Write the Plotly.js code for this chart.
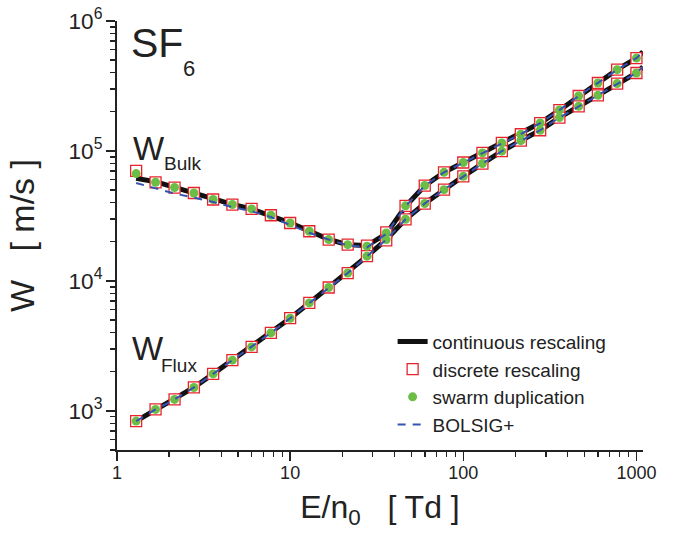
<!DOCTYPE html>
<html>
<head>
<meta charset="utf-8">
<script src="https://cdn.plot.ly/plotly-3.0.1.min.js"></script>
<style>html,body{margin:0;padding:0;background:#fff;}#chart{width:673px;height:535px;}</style>
</head>
<body>
<div id="chart"></div>
<script>
// E/n0 values (Td) of the sampled points
const E_td = [1.29, 1.67, 2.15, 2.78, 3.59, 4.64, 5.99, 7.74, 10, 12.9, 16.7, 21.5, 27.8, 35.9, 46.4, 59.9, 77.4, 100, 129, 167, 215, 278, 359, 464, 599, 774, 1000];
// E/n0 values for the continuous curves (extend to the axis end)
const E_line = [1.29, 1.67, 2.15, 2.78, 3.59, 4.64, 5.99, 7.74, 10, 12.9, 16.7, 21.5, 27.8, 35.9, 46.4, 59.9, 77.4, 100, 129, 167, 215, 278, 359, 464, 599, 774, 1000, 1090];

// continuous rescaling (m/s)
const bulkContinuous = [61500, 58000, 52500, 47500, 42500, 38800, 35800, 32000, 28000, 24200, 20900, 19000, 18700, 23000, 37500, 54000, 68500, 81500, 96500, 115000, 135000, 164000, 206000, 265000, 333000, 422000, 518000, 580000];
const fluxContinuous = [834, 1026, 1225, 1514, 1926, 2455, 3107, 3980, 5165, 6770, 8900, 11500, 15500, 20800, 29800, 39400, 50400, 63800, 80000, 99600, 120000, 144300, 180700, 220600, 268000, 329800, 398000, 443000];

// discrete rescaling (m/s)
const bulkDiscrete = [70200, 57400, 52300, 47500, 42300, 38700, 35800, 32000, 27900, 24100, 20800, 19000, 18700, 23600, 37800, 54200, 68500, 81500, 96600, 115300, 134400, 164000, 206500, 264900, 333500, 422500, 518600];
const fluxDiscrete = [834, 1026, 1225, 1514, 1926, 2455, 3107, 3980, 5165, 6770, 8900, 11500, 15500, 20500, 29800, 39400, 50400, 63800, 80000, 99600, 120000, 144300, 180700, 220600, 268000, 329800, 398000];

// swarm duplication (m/s)
const bulkSwarm = [67000, 57400, 52300, 47500, 42300, 38700, 35800, 32000, 27900, 24100, 20800, 19000, 18500, 23400, 37800, 54200, 68500, 81500, 96600, 115300, 134400, 164000, 206500, 264900, 333500, 422500, 518600];
const fluxSwarm = [834, 1026, 1225, 1514, 1926, 2455, 3107, 3980, 5165, 6770, 8900, 11500, 15500, 20800, 29800, 39400, 50400, 63800, 80000, 99600, 120000, 144300, 180700, 220600, 268000, 329800, 398000];

// BOLSIG+ (m/s)
const bulkBolsig = [56700, 51500, 47000, 43700, 40500, 37000, 34400, 31000, 26800, 23500, 20800, 18800, 18100, 23000, 37500, 54000, 68500, 81500, 96500, 115000, 135000, 164000, 206000, 265000, 333000, 422000, 518000, 580000];
const fluxBolsig = [834, 1026, 1225, 1514, 1926, 2455, 3107, 3980, 5165, 6770, 8900, 11500, 15500, 20800, 29800, 39400, 50400, 63800, 80000, 99600, 120000, 144300, 180700, 220600, 268000, 329800, 398000, 443000];

const seriesNames = ['continuous rescaling', 'discrete rescaling', 'swarm duplication', 'BOLSIG+'];

function join(a, b) { return a.concat([null], b); }

const FONT = 'Liberation Sans, Arial, Helvetica, sans-serif';

const traces = [
  {
    name: seriesNames[0], type: 'scatter', mode: 'lines',
    x: join(E_line, E_line), y: join(bulkContinuous, fluxContinuous),
    connectgaps: false,
    line: {color: '#111111', width: 5}
  },
  {
    name: seriesNames[1], type: 'scatter', mode: 'markers',
    x: join(E_td, E_td), y: join(bulkDiscrete, fluxDiscrete),
    marker: {symbol: 'square', size: 11, color: 'rgba(255,255,255,1)', line: {color: '#e8232b', width: 1.3}}
  },
  {
    name: seriesNames[2], type: 'scatter', mode: 'markers',
    x: join(E_td, E_td), y: join(bulkSwarm, fluxSwarm),
    marker: {symbol: 'circle', size: 9, color: '#6cbd45', line: {width: 0}}
  },
  {
    name: seriesNames[3], type: 'scatter', mode: 'lines',
    x: join(E_line, E_line), y: join(bulkBolsig, fluxBolsig),
    connectgaps: false,
    line: {color: '#3553b0', width: 2, dash: '8px,7px'}
  }
];

const axisCommon = {
  type: 'log',
  showgrid: false,
  zeroline: false,
  showline: true,
  linecolor: '#222',
  linewidth: 2,
  ticks: 'outside',
  ticklen: 9,
  tickwidth: 1.5,
  tickcolor: '#222',
  mirror: false,
  minor: {ticks: 'outside', ticklen: 5, tickwidth: 1.3, tickcolor: '#222', dtick: 'D1', showgrid: false},
  tickfont: {family: FONT, size: 18, color: '#222'}
};

const layout = {
  width: 673, height: 535,
  margin: {l: 117, r: 30, t: 21, b: 85},
  paper_bgcolor: '#fff', plot_bgcolor: '#fff',
  font: {family: FONT, color: '#222'},
  showlegend: true,
  legend: {
    x: 0.524, y: 0.297, xanchor: 'left', yanchor: 'top',
    bgcolor: 'rgba(0,0,0,0)', borderwidth: 0,
    font: {family: FONT, size: 19, color: '#222'}
  },
  xaxis: Object.assign({}, axisCommon, {
    range: [0, 3.038],
    dtick: 1,
    exponentformat: 'none',
    ticklabelstandoff: -4,
    title: {text: 'E/n<sub>0</sub>\u00a0\u00a0\u00a0[ Td ]', font: {family: FONT, size: 32, color: '#222'}, standoff: 14}
  }),
  yaxis: Object.assign({}, axisCommon, {
    range: [Math.log10(500), 6],
    dtick: 1,
    exponentformat: 'power',
    title: {text: 'W\u00a0\u00a0\u00a0[ m/s ]\u00a0\u00a0\u00a0', font: {family: FONT, size: 34, color: '#222'}, standoff: 24}
  }),
  annotations: [
    {text: 'SF', xref: 'paper', yref: 'paper', x: 0.022, y: 0.948, xanchor: 'left', yanchor: 'middle', showarrow: false, font: {family: FONT, size: 41, color: '#222'}},
    {text: '6', xref: 'paper', yref: 'paper', x: 0.122, y: 0.89, xanchor: 'left', yanchor: 'middle', showarrow: false, font: {family: FONT, size: 22, color: '#222'}},
    {text: 'W', xref: 'paper', yref: 'paper', x: 0.026, y: 0.703, xanchor: 'left', yanchor: 'middle', showarrow: false, font: {family: FONT, size: 33, color: '#222'}},
    {text: 'Bulk', xref: 'paper', yref: 'paper', x: 0.085, y: 0.668, xanchor: 'left', yanchor: 'middle', showarrow: false, font: {family: FONT, size: 19, color: '#222'}},
    {text: 'W', xref: 'paper', yref: 'paper', x: 0.025, y: 0.2376, xanchor: 'left', yanchor: 'middle', showarrow: false, font: {family: FONT, size: 33, color: '#222'}},
    {text: 'Flux', xref: 'paper', yref: 'paper', x: 0.080, y: 0.197, xanchor: 'left', yanchor: 'middle', showarrow: false, font: {family: FONT, size: 19, color: '#222'}}
  ]
};

Plotly.newPlot('chart', traces, layout, {staticPlot: true, displayModeBar: false});
</script>
</body>
</html>
